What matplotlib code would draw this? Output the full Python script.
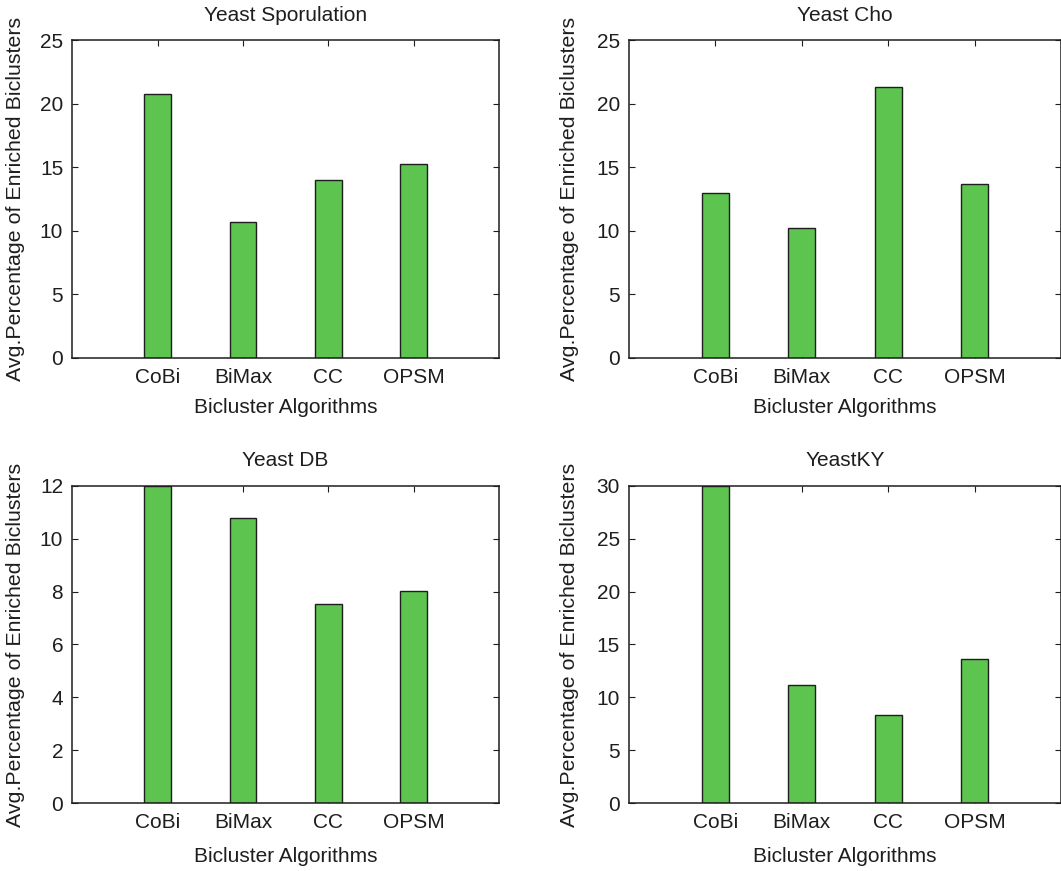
import matplotlib
matplotlib.use('Agg')
import matplotlib.pyplot as plt

plt.rcParams['font.family'] = ['Liberation Sans', 'DejaVu Sans']
plt.rcParams['font.size'] = 15

algorithms = ['CoBi', 'BiMax', 'CC', 'OPSM']

titles = ['Yeast Sporulation', 'Yeast Cho', 'Yeast DB', 'YeastKY']
sporulation = [20.73, 10.67, 14.0, 15.28]
cho = [12.95, 10.26, 21.31, 13.72]
db = [12.0, 10.77, 7.52, 8.01]
ky = [30.0, 11.2, 8.31, 13.66]
series = [sporulation, cho, db, ky]
ylims = [25, 25, 12, 30]
ysteps = [5, 5, 2, 5]

# axes boxes in figure fractions: left, bottom, width, height
boxes = [
    [0.0681, 0.589, 0.4022, 0.365],
    [0.5928, 0.589, 0.4072, 0.365],
    [0.0681, 0.0777, 0.4022, 0.3647],
    [0.5928, 0.0777, 0.4072, 0.3647],
]
xlab_y = [-0.157, -0.157, -0.168, -0.168]
ylab_x = [-0.133, -0.137, -0.133, -0.137]

bar_color = '#5cc44f'
ink = '#1e1e1e'

fig = plt.figure(figsize=(10.61, 8.71), dpi=100)

for i in range(4):
    ax = fig.add_axes(boxes[i])
    pos = list(range(1, len(algorithms) + 1))
    ax.bar(pos, series[i], width=0.31, color=bar_color,
           edgecolor=ink, linewidth=1.0, zorder=2)
    ax.set_xlim(0, 5)
    ax.set_ylim(0, ylims[i])
    ax.set_xticks(pos)
    ax.set_xticklabels(algorithms)
    ax.set_yticks(range(0, ylims[i] + 1, ysteps[i]))
    ax.tick_params(direction='in', top=True, right=True, length=4,
                   width=0.8, color=ink, labelcolor=ink)
    ax.tick_params(axis='x', pad=7)
    ax.tick_params(axis='y', pad=6.5)
    for sp in ax.spines.values():
        sp.set_color(ink)
        sp.set_linewidth(1.1)
    ax.set_title(titles[i], fontsize=15, y=1.078, pad=0, va='center',
                 color=ink)
    ax.set_xlabel('Bicluster Algorithms', va='center', color=ink)
    ax.xaxis.set_label_coords(0.5, xlab_y[i])
    ax.set_ylabel('Avg.Percentage of Enriched Biclusters', fontsize=15.4,
                  va='center', color=ink)
    ax.yaxis.set_label_coords(ylab_x[i], 0.5)

fig.savefig('out.png', dpi=100)
